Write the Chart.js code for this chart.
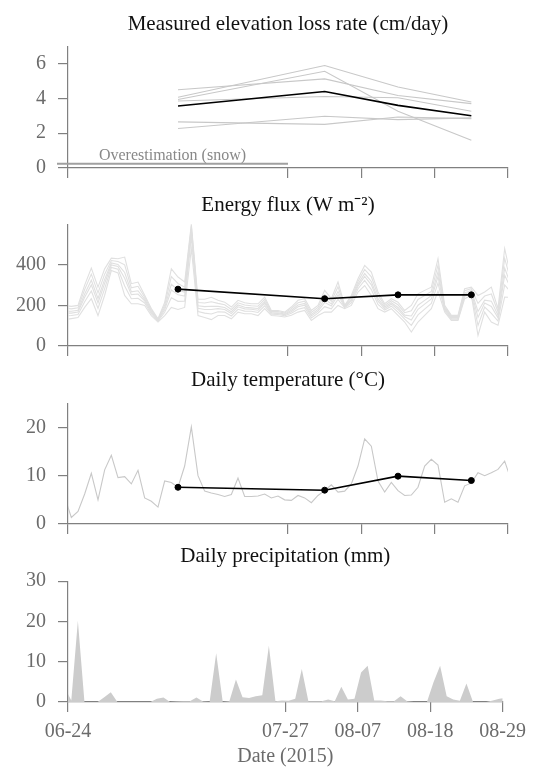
<!DOCTYPE html>
<html lang="en">
<head>
<meta charset="UTF-8">
<title>Elevation loss, energy flux, temperature and precipitation (2015)</title>
<script src="https://cdn.jsdelivr.net/npm/chart.js"></script>
<style>
  body { margin: 0; background: #fff; }
  #wrap { position: relative; width: 534px; height: 776px; }
  .panel { position: absolute; left: 0; width: 534px; }
</style>
</head>
<body>
<div id="wrap">
  <div class="panel" style="top:0px;height:180px"><canvas id="lossChart"></canvas></div>
  <div class="panel" style="top:185px;height:173px"><canvas id="fluxChart"></canvas></div>
  <div class="panel" style="top:360px;height:176px"><canvas id="tempChart"></canvas></div>
  <div class="panel" style="top:535px;height:241px"><canvas id="precipChart"></canvas></div>
</div>
<script>
  // x axis is days since 06-24
  const tickDays = [0, 33, 44, 55, 66];
  const tickLabels = ['06-24', '07-27', '08-07', '08-18', '08-29'];

  // measurement periods (mid points) and elevation loss per stake
  const periodDays = [16.5, 38.5, 49.5, 60.5];
  const lossMean = [3.56, 4.4, 3.6, 3.0];
  const lossStake1 = [4.07, 5.89, 4.65, 3.79];
  const lossStake2 = [3.94, 5.56, 3.26, 1.6];
  const lossStake3 = [4.5, 5.12, 4.17, 3.7];
  const lossStake4 = [3.85, 4.11, 4.04, 3.26];
  const lossStake5 = [2.65, 2.51, 2.93, 2.84];
  const lossStake6 = [2.27, 2.97, 2.78, 2.88];
  const snowSpan = [-1.65, 33];
  const snowLevel = 0.25;

  // daily values, first one is 06-23 noon
  const fluxRun1 = [200,195,200,300,384,290,380,433,430,438,307,315,250,185,134,215,380,340,315,600,230,230,240,225,216,192,225,213,208,208,241,175,175,167,192,225,233,175,200,274,233,315,200,249,331,397,364,266,208,233,216,175,200,257,274,290,430,200,151,151,282,290,249,266,290,184,480,330];
  const fluxRun2 = [186,183,188,278,354,262,354,421,416,400,287,294,240,178,131,202,342,308,290,590,214,212,218,210,203,180,213,202,198,196,230,170,170,162,184,213,221,165,190,253,220,292,197,239,318,377,341,250,200,223,203,164,174,229,249,269,398,193,146,146,272,282,210,246,256,168,432,312];
  const fluxRun3 = [172,171,176,256,324,234,328,409,402,362,267,272,230,171,128,189,304,276,265,575,198,194,196,195,190,169,202,191,188,185,218,165,164,157,176,202,210,155,180,231,207,269,194,229,305,357,318,233,192,213,190,152,148,201,225,248,366,187,141,141,262,274,170,226,221,151,384,294];
  const fluxRun4 = [162,162,167,240,301,213,309,399,392,334,253,256,222,166,125,179,276,252,246,560,186,180,180,184,180,160,193,183,181,176,210,161,160,154,169,193,201,148,172,215,197,252,191,222,295,343,301,221,185,206,180,144,128,181,206,232,342,182,137,137,255,267,141,212,195,139,349,280];
  const fluxRun5 = [148,150,155,218,271,185,283,387,378,296,233,235,212,159,122,166,238,220,221,540,170,162,158,169,167,148,181,172,171,165,198,156,155,149,161,181,189,138,162,194,183,229,188,212,282,323,278,205,177,196,167,132,102,153,182,210,310,175,132,132,245,259,101,192,161,123,301,262];
  const fluxRun6 = [130,135,140,190,233,150,250,372,360,249,208,208,200,150,118,150,190,180,190,480,150,140,130,150,150,134,167,159,159,150,184,150,148,143,151,167,175,126,150,167,167,200,184,200,266,298,249,184,167,184,151,118,69,118,151,184,270,167,126,126,233,249,52,167,118,102,241,240];
  const fluxPeriod = [280, 233, 252, 252];

  const temperature = [5.6,1.35,2.6,6.2,10.5,5.0,11.2,14.2,9.6,9.8,8.3,11.1,5.4,4.7,3.5,8.9,8.6,7.6,12.0,20.1,10.0,6.8,6.4,6.1,5.7,6.1,9.5,5.7,5.7,5.8,6.2,5.4,5.8,5.0,4.9,5.9,5.4,4.4,5.9,6.9,8.1,6.6,6.8,8.3,12.0,17.6,16.1,8.9,6.6,8.6,6.9,5.9,6.0,7.6,12.0,13.4,12.2,4.5,5.2,4.5,7.9,8.5,10.6,10.0,10.6,11.3,13.0,9.0];
  const tempPeriod = [7.6, 7.0, 9.9, 9.0];

  const precipitation = [3.6,0.4,20.2,0,0,0,1.2,2.4,0,0,0,0,0,0,0.8,1.1,0,0.1,0.2,0.2,1.1,0.1,0,12.1,0,0.2,5.6,1.2,1.0,1.4,1.7,14.0,0.2,0.4,0.3,0.8,8.2,0.2,0.2,0.2,0.6,0.2,3.8,0.6,0.8,7.3,9.0,0.4,0.4,0.2,0.2,1.4,0.2,0,0,0,4.9,9.0,1.4,0.6,0.3,4.6,0,0,0,0.4,0.8,1.0];

  const dailyDays = temperature.map((_, i) => i - 0.5);
  const toXY = (xs, ys) => ys.map((v, i) => ({ x: xs[i], y: v }));

  Chart.defaults.font.family = "'Liberation Serif', 'Times New Roman', serif";
  Chart.defaults.font.size = 20;

  const axisGrey = '#808080';
  const labelGrey = '#6b6b6b';

  function xAxis(showLabels, height) {
    return {
      type: 'linear', min: 0, max: 66,
      afterBuildTicks: s => { s.ticks = tickDays.map(v => ({ value: v })); },
      afterFit: s => { s.height = height; },
      ticks: {
        display: showLabels, autoSkip: false, maxRotation: 0, padding: 8, color: labelGrey,
        callback: v => tickLabels[tickDays.indexOf(v)]
      },
      grid: { drawOnChartArea: false, tickLength: 10, color: axisGrey, lineWidth: 1.2 },
      border: { color: axisGrey, width: 1.2 },
      title: { display: showLabels, text: 'Date (2015)', color: labelGrey, padding: { top: 0, bottom: 7 } }
    };
  }

  function yAxis(max, ticks) {
    return {
      min: 0, max: max,
      afterBuildTicks: s => { s.ticks = ticks.map(v => ({ value: v })); },
      afterFit: s => { s.width = 68; s.paddingTop = 0; s.paddingBottom = 0; },
      ticks: { padding: 12, color: labelGrey },
      grid: { drawOnChartArea: false, tickLength: 10, color: axisGrey, lineWidth: 1.2 },
      border: { color: axisGrey, width: 1.2 }
    };
  }

  function baseOptions(title, padTop, padBottom, xAx, yAx) {
    return {
      responsive: true,
      maintainAspectRatio: false,
      animation: false,
      layout: { padding: { left: 0, right: 26, top: 0, bottom: 0 } },
      elements: { line: { tension: 0 }, point: { radius: 0 } },
      plugins: {
        legend: { display: false },
        tooltip: { enabled: false },
        title: {
          display: true, fullSize: false, text: title, color: '#111',
          font: { size: 21, weight: 'normal' }, padding: { top: padTop, bottom: padBottom }
        }
      },
      scales: { x: xAx, y: yAx }
    };
  }

  // higher order is drawn first, so grey goes underneath the black line
  const greyLine = (xs, ys, color) => ({ data: toXY(xs, ys), borderColor: color, borderWidth: 1.1, order: 2 });
  const blackLine = (xs, ys, r) => ({
    data: toXY(xs, ys), borderColor: '#000', borderWidth: 1.6, order: 0,
    pointRadius: r, pointBackgroundColor: '#000', pointBorderColor: '#000', pointBorderWidth: 1
  });

  const snowLabel = {
    id: 'snowLabel',
    afterDatasetsDraw(chart) {
      const { ctx, scales: { x, y } } = chart;
      ctx.save();
      ctx.font = "16px 'Liberation Serif', serif";
      ctx.fillStyle = '#888';
      ctx.textAlign = 'center';
      ctx.fillText('Overestimation (snow)', x.getPixelForValue((snowSpan[0] + snowSpan[1]) / 2), y.getPixelForValue(snowLevel) - 4);
      ctx.restore();
    }
  };

  new Chart(document.getElementById('lossChart'), {
    type: 'line',
    data: {
      datasets: [
        blackLine(periodDays, lossMean, 0),
        greyLine(periodDays, lossStake1, '#c8c8c8'),
        greyLine(periodDays, lossStake2, '#c8c8c8'),
        greyLine(periodDays, lossStake3, '#c8c8c8'),
        greyLine(periodDays, lossStake4, '#c8c8c8'),
        greyLine(periodDays, lossStake5, '#c8c8c8'),
        greyLine(periodDays, lossStake6, '#c8c8c8'),
        { data: toXY(snowSpan, [snowLevel, snowLevel]), borderColor: '#a0a0a0', borderWidth: 2, clip: false, order: 1 }
      ]
    },
    options: baseOptions('Measured elevation loss rate (cm/day)', 12, 9, xAxis(false, 12), yAxis(7, [0, 2, 4, 6])),
    plugins: [snowLabel]
  });

  new Chart(document.getElementById('fluxChart'), {
    type: 'line',
    data: {
      datasets: [
        blackLine(periodDays, fluxPeriod, 3),
        greyLine(dailyDays, fluxRun1, '#e0e0e0'),
        greyLine(dailyDays, fluxRun2, '#e0e0e0'),
        greyLine(dailyDays, fluxRun3, '#e0e0e0'),
        greyLine(dailyDays, fluxRun4, '#e0e0e0'),
        greyLine(dailyDays, fluxRun5, '#e0e0e0'),
        greyLine(dailyDays, fluxRun6, '#e0e0e0')
      ]
    },
    options: baseOptions('Energy flux (W m\u207B\u00B2)', 8, 6, xAxis(false, 12), yAxis(600, [0, 200, 400]))
  });

  new Chart(document.getElementById('tempChart'), {
    type: 'line',
    data: {
      datasets: [
        blackLine(periodDays, tempPeriod, 3),
        greyLine(dailyDays, temperature, '#c8c8c8')
      ]
    },
    options: baseOptions('Daily temperature (\u00B0C)', 8, 10, xAxis(false, 12), yAxis(25, [0, 10, 20]))
  });

  new Chart(document.getElementById('precipChart'), {
    type: 'line',
    data: {
      datasets: [
        { data: toXY(dailyDays, precipitation), borderWidth: 0, borderColor: 'rgba(0,0,0,0)', backgroundColor: '#cccccc', fill: 'origin' }
      ]
    },
    options: baseOptions('Daily precipitation (mm)', 9, 12, xAxis(true, 74), yAxis(30, [0, 10, 20, 30]))
  });
</script>
</body>
</html>
